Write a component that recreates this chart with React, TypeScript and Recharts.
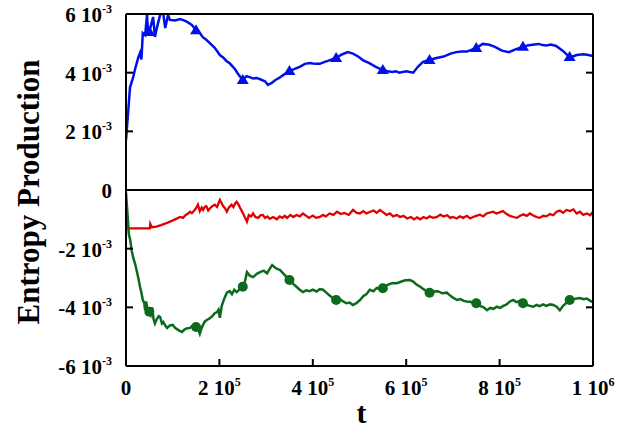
import { LineChart, Line, XAxis, YAxis, ReferenceLine, Label } from "recharts";

// t, value (value in units of 1e-3)
const blue: [number, number][] = [
  [0, 1.7], [8600, 3.5], [15000, 3.82], [19000, 4.09], [26000, 4.5], [30000, 4.67],
  [33000, 4.45], [36000, 5.35], [41000, 5.28], [45000, 5.97], [47000, 5.45], [50000, 5.39],
  [58000, 5.9], [62000, 5.22], [66000, 5.52], [73000, 5.97], [79000, 6.1], [84000, 5.52],
  [90000, 5.97], [94000, 5.8], [105000, 5.78], [116000, 5.83], [124000, 5.78], [131000, 5.73],
  [141000, 5.63], [150000, 5.45], [158000, 5.35], [165000, 5.2], [172000, 5.12], [180000, 5.0],
  [190000, 4.85], [201000, 4.6], [208000, 4.52], [215000, 4.4], [222000, 4.32], [229000, 4.2],
  [235000, 4.08], [240000, 3.95], [250000, 3.75], [258000, 3.88], [265000, 3.85], [272000, 3.8],
  [280000, 3.82], [291000, 3.75], [298000, 3.7], [304000, 3.58], [312000, 3.65], [320000, 3.75],
  [328000, 3.82], [335000, 3.9], [350000, 4.06], [360000, 4.12], [372000, 4.2], [383000, 4.3],
  [394000, 4.33], [405000, 4.3], [415000, 4.3], [424000, 4.36], [432000, 4.4], [450000, 4.5],
  [462000, 4.62], [475000, 4.7], [486000, 4.65], [497000, 4.55], [508000, 4.42], [520000, 4.33],
  [535000, 4.2], [550000, 4.09], [560000, 4.05], [570000, 4.02], [578000, 4.05], [585000, 4.0],
  [600000, 4.05], [615000, 4.0], [625000, 4.2], [636000, 4.37], [650000, 4.43], [665000, 4.5],
  [680000, 4.55], [695000, 4.65], [707000, 4.7], [718000, 4.72], [730000, 4.72], [750000, 4.84],
  [764000, 4.98], [778000, 4.95], [790000, 4.88], [805000, 4.75], [820000, 4.7], [835000, 4.8],
  [850000, 4.88], [860000, 4.93], [870000, 4.95], [884000, 4.98], [892000, 4.94], [900000, 4.93],
  [910000, 4.96], [921000, 4.91], [935000, 4.75], [950000, 4.53], [958000, 4.56], [965000, 4.6],
  [979000, 4.63], [990000, 4.6], [1000000, 4.57],
];

const red: [number, number][] = [
  [0, -1.31], [51000, -1.31], [52000, -1.16], [55000, -1.27], [65000, -1.25], [75000, -1.2],
  [85000, -1.14], [94000, -1.08], [105000, -1.0], [116000, -0.92], [122000, -0.95], [128000, -0.85],
  [133000, -0.8], [137000, -0.74], [141000, -0.79], [146000, -0.7], [150000, -0.62], [154000, -0.5],
  [158000, -0.72], [162000, -0.6], [165000, -0.68], [169000, -0.57], [172000, -0.55], [176000, -0.7],
  [180000, -0.62], [185000, -0.55], [190000, -0.5], [195000, -0.58], [201000, -0.34], [205000, -0.45],
  [208000, -0.55], [212000, -0.62], [216000, -0.74], [220000, -0.6], [226000, -0.5], [230000, -0.58],
  [234000, -0.45], [237000, -0.4], [241000, -0.5], [244000, -0.6], [250000, -0.78], [255000, -0.95],
  [259000, -1.08], [263000, -0.85], [268000, -0.9], [272000, -0.8], [277000, -0.92], [283000, -0.95],
  [288000, -0.86], [293000, -0.85], [298000, -0.95], [303000, -0.9], [308000, -0.98], [315000, -0.92],
  [323000, -1.0], [329000, -0.9], [335000, -0.95], [340000, -0.88], [345000, -0.95], [352000, -0.85],
  [358000, -0.92], [365000, -0.85], [372000, -0.9], [379000, -0.8], [386000, -0.88], [392000, -0.95],
  [400000, -0.87], [407000, -0.95], [415000, -0.92], [422000, -0.85], [428000, -0.9], [436000, -0.8],
  [444000, -0.85], [452000, -0.74], [460000, -0.82], [468000, -0.78], [477000, -0.85], [486000, -0.68],
  [494000, -0.78], [501000, -0.8], [508000, -0.72], [515000, -0.8], [522000, -0.75], [530000, -0.7],
  [537000, -0.78], [544000, -0.68], [551000, -0.76], [558000, -0.85], [565000, -0.8], [572000, -0.9],
  [580000, -0.85], [587000, -0.92], [594000, -0.88], [602000, -0.97], [610000, -0.92], [617000, -1.0],
  [623000, -0.93], [630000, -1.0], [637000, -0.92], [644000, -0.97], [650000, -0.9], [658000, -0.95],
  [666000, -0.92], [673000, -0.84], [680000, -0.9], [688000, -0.86], [694000, -0.95], [700000, -0.92],
  [708000, -0.97], [715000, -0.9], [722000, -0.95], [730000, -0.88], [737000, -0.97], [743000, -0.92],
  [750000, -0.88], [758000, -0.84], [765000, -0.9], [772000, -0.8], [779000, -0.77], [786000, -0.74],
  [793000, -0.8], [800000, -0.76], [807000, -0.72], [815000, -0.82], [822000, -0.88], [830000, -0.92],
  [837000, -0.95], [844000, -0.88], [851000, -0.83], [858000, -0.88], [865000, -0.8], [872000, -0.87],
  [879000, -0.92], [886000, -0.95], [893000, -0.88], [900000, -0.9], [908000, -0.82], [915000, -0.86],
  [922000, -0.74], [929000, -0.7], [936000, -0.78], [943000, -0.68], [951000, -0.72], [958000, -0.66],
  [965000, -0.8], [972000, -0.74], [979000, -0.85], [987000, -0.8], [994000, -0.86], [1000000, -0.74],
];

const green: [number, number][] = [
  [0, -0.1], [4000, -1.0], [6000, -1.5], [9000, -1.7], [12000, -2.05], [15000, -2.28],
  [20000, -2.55], [24000, -2.83], [27000, -3.05], [30000, -3.3], [33000, -3.5], [36000, -3.75],
  [39000, -3.85], [41000, -4.1], [43000, -3.8], [46000, -4.05], [50000, -4.15], [53000, -4.25],
  [56000, -4.0], [59000, -4.4], [62000, -4.55], [66000, -4.4], [70000, -4.3], [73000, -4.33],
  [77000, -4.55], [80000, -4.5], [84000, -4.62], [88000, -4.7], [94000, -4.62], [100000, -4.6],
  [105000, -4.7], [110000, -4.75], [115000, -4.8], [120000, -4.84], [125000, -4.76], [130000, -4.72],
  [137000, -4.7], [143000, -4.62], [150000, -4.67], [154000, -4.72], [158000, -4.9], [162000, -4.7],
  [165000, -4.6], [169000, -4.48], [173000, -4.43], [179000, -4.38], [185000, -4.3], [190000, -4.2],
  [195000, -4.16], [198000, -4.08], [201000, -4.36], [205000, -3.95], [210000, -3.72], [216000, -3.5],
  [222000, -3.45], [227000, -3.55], [232000, -3.4], [237000, -3.48], [244000, -3.38], [250000, -3.3],
  [255000, -3.1], [259000, -2.8], [265000, -2.92], [272000, -2.97], [280000, -2.86], [287000, -2.8],
  [295000, -2.75], [302000, -2.84], [308000, -2.68], [313000, -2.56], [320000, -2.66], [330000, -2.73],
  [340000, -2.9], [350000, -3.07], [358000, -3.2], [365000, -3.3], [372000, -3.4], [379000, -3.48],
  [386000, -3.42], [393000, -3.45], [400000, -3.4], [408000, -3.46], [415000, -3.38], [422000, -3.4],
  [429000, -3.5], [436000, -3.6], [443000, -3.68], [450000, -3.75], [458000, -3.72], [465000, -3.8],
  [472000, -3.86], [479000, -3.84], [486000, -3.92], [494000, -3.85], [501000, -3.75], [508000, -3.62],
  [515000, -3.55], [522000, -3.4], [530000, -3.45], [537000, -3.34], [544000, -3.38], [550000, -3.35],
  [558000, -3.25], [565000, -3.2], [572000, -3.17], [580000, -3.18], [590000, -3.12], [598000, -3.08],
  [608000, -3.07], [615000, -3.12], [622000, -3.22], [630000, -3.3], [637000, -3.38], [644000, -3.45],
  [650000, -3.5], [658000, -3.46], [668000, -3.45], [677000, -3.52], [687000, -3.5], [694000, -3.6],
  [701000, -3.68], [709000, -3.75], [716000, -3.72], [723000, -3.78], [730000, -3.8], [740000, -3.82],
  [750000, -3.86], [758000, -3.95], [766000, -4.0], [773000, -4.1], [780000, -4.02], [787000, -4.05],
  [794000, -3.98], [801000, -4.02], [808000, -3.95], [815000, -3.9], [822000, -3.8], [829000, -3.75],
  [836000, -3.82], [843000, -3.78], [850000, -3.86], [858000, -3.92], [865000, -3.95], [872000, -3.98],
  [879000, -3.92], [886000, -3.96], [893000, -3.9], [900000, -3.95], [908000, -3.9], [915000, -3.92],
  [922000, -3.98], [929000, -4.1], [936000, -3.95], [943000, -3.85], [950000, -3.75], [958000, -3.72],
  [965000, -3.7], [972000, -3.68], [980000, -3.72], [987000, -3.7], [994000, -3.78], [1000000, -3.82],
];

const triangleAt = [50000, 150000, 250000, 350000, 450000, 550000, 650000, 750000, 850000, 950000];
const circleAt = [50000, 150000, 250000, 350000, 450000, 550000, 650000, 750000, 850000, 950000];

const xTicks = [0, 200000, 400000, 600000, 800000, 1000000];
const yTicks = [-6, -4, -2, 0, 2, 4, 6];

const X_MAX = 1000000;
const Y_MAX = 6;

const BLUE = "#0010e8";
const RED = "#e00000";
const GREEN = "#0b6a1c";
const FONT = "'Liberation Serif', 'Times New Roman', serif";

const toRows = (pts: [number, number][]) => pts.map(([t, v]) => ({ t, v }));

const sci = (v: number): [string, string] => {
  if (v === 0) return ["0", ""];
  const e = Math.floor(Math.log10(Math.abs(v)) + 1e-9);
  const m = Math.round(v / Math.pow(10, e));
  return [`${m} 10`, `${e}`];
};

const BottomTick = ({ x, y, payload }: any) => {
  const [m, e] = sci(payload.value);
  return (
    <g>
      <line x1={x} y1={y} x2={x} y2={y - 7} stroke="#000" strokeWidth={2} />
      <text x={x} y={y + 29} textAnchor="middle" fontFamily={FONT} fontWeight="bold" fontSize={21} fill="#000">
        {m}
        {e && <tspan dy={-9} fontSize={12}>{e}</tspan>}
      </text>
    </g>
  );
};

const TopTick = ({ x, y }: any) => (
  <line x1={x} y1={y} x2={x} y2={y + 7} stroke="#000" strokeWidth={2} />
);

const LeftTick = ({ x, y, payload }: any) => {
  const [m, e] = sci(payload.value * 1e-3);
  return (
    <g>
      <line x1={x} y1={y} x2={x + 7} y2={y} stroke="#000" strokeWidth={2} />
      <text x={x - 14} y={y + 8} textAnchor="end" fontFamily={FONT} fontWeight="bold" fontSize={21} fill="#000">
        {m}
        {e && <tspan dy={-9} fontSize={12}>{e}</tspan>}
      </text>
    </g>
  );
};

const RightTick = ({ x, y }: any) => (
  <line x1={x} y1={y} x2={x - 7} y2={y} stroke="#000" strokeWidth={2} />
);

const TriangleDot = (props: any) => {
  const { cx, cy, payload, index } = props;
  if (!triangleAt.includes(payload.t)) return <g key={`tri-${index}`} />;
  return (
    <polygon
      key={`tri-${index}`}
      points={`${cx},${cy - 6} ${cx - 6},${cy + 4} ${cx + 6},${cy + 4}`}
      fill={BLUE}
    />
  );
};

const CircleDot = (props: any) => {
  const { cx, cy, payload, index } = props;
  if (!circleAt.includes(payload.t)) return <g key={`cir-${index}`} />;
  return <circle key={`cir-${index}`} cx={cx} cy={cy} r={5} fill={GREEN} />;
};

const frame = { stroke: "#000", strokeWidth: 2 };

export default function App() {
  return (
    <div style={{ position: "absolute", left: 0, top: 0 }}>
      <LineChart width={636} height={428} margin={{ top: 13, right: 42, bottom: 22, left: 16 }}>
        <XAxis
          dataKey="t"
          type="number"
          domain={[0, X_MAX]}
          ticks={xTicks}
          height={40}
          tickLine={false}
          tickSize={0}
          tickMargin={0}
          tick={BottomTick}
          axisLine={frame}
          allowDataOverflow
        >
          <Label
            content={({ viewBox }: any) => (
              <text
                x={viewBox.x + viewBox.width / 2 + 2}
                y={viewBox.y + 57}
                textAnchor="middle"
                fontFamily={FONT}
                fontWeight="bold"
                fontSize={30}
                fill="#000"
              >
                t
              </text>
            )}
          />
        </XAxis>
        <XAxis
          xAxisId="top"
          orientation="top"
          type="number"
          domain={[0, X_MAX]}
          ticks={xTicks.slice(1, -1)}
          height={1}
          tickLine={false}
          tickSize={0}
          tickMargin={0}
          tick={TopTick}
          axisLine={frame}
          allowDataOverflow
        />
        <YAxis
          type="number"
          domain={[-Y_MAX, Y_MAX]}
          ticks={yTicks}
          width={110}
          tickLine={false}
          tickSize={0}
          tickMargin={0}
          tick={LeftTick}
          axisLine={frame}
          allowDataOverflow
        >
          <Label
            content={({ viewBox }: any) => {
              const x = 39;
              const y = viewBox.y + viewBox.height / 2 + 2;
              return (
                <text
                  x={x}
                  y={y}
                  transform={`rotate(-90 ${x} ${y})`}
                  textAnchor="middle"
                  fontFamily={FONT}
                  fontWeight="bold"
                  fontSize={31}
                  fill="#000"
                >
                  Entropy Production
                </text>
              );
            }}
          />
        </YAxis>
        <YAxis
          yAxisId="right"
          orientation="right"
          type="number"
          domain={[-Y_MAX, Y_MAX]}
          ticks={yTicks.slice(1, -1)}
          width={1}
          tickLine={false}
          tickSize={0}
          tickMargin={0}
          tick={RightTick}
          axisLine={frame}
          allowDataOverflow
        />
        <ReferenceLine y={0} stroke="#000" strokeWidth={2} />
        <Line
          data={toRows(red)}
          dataKey="v"
          type="linear"
          stroke={RED}
          strokeWidth={2.3}
          dot={false}
          activeDot={false}
          isAnimationActive={false}
        />
        <Line
          data={toRows(green)}
          dataKey="v"
          type="linear"
          stroke={GREEN}
          strokeWidth={2.5}
          dot={CircleDot}
          activeDot={false}
          isAnimationActive={false}
        />
        <Line
          data={toRows(blue)}
          dataKey="v"
          type="linear"
          stroke={BLUE}
          strokeWidth={2.5}
          dot={TriangleDot}
          activeDot={false}
          isAnimationActive={false}
        />
      </LineChart>
    </div>
  );
}
